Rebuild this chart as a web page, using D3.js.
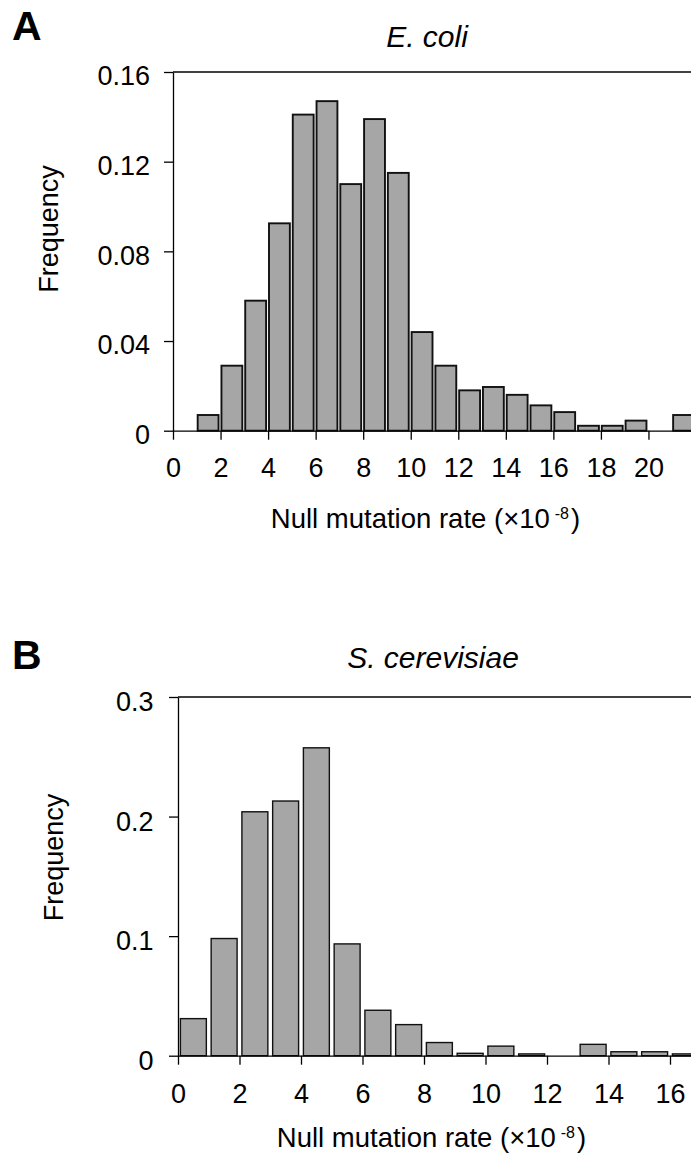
<!DOCTYPE html>
<html>
<head>
<meta charset="utf-8">
<script src="https://cdn.jsdelivr.net/npm/d3@7"></script>
<style>
    body { margin: 0; background: #fff; }
    svg { display: block; font-family: "Liberation Sans", Arial, sans-serif; }
</style>
</head>
<body>
<svg id="chartSvg" width="691" height="1155"></svg>
<script>
// E. coli histogram (bin starts, width 1)
const ecoliBins = [1, 2, 3, 4, 5, 6, 7, 8, 9, 10, 11, 12, 13, 14, 15, 16, 17, 18, 19, 20, 21];
const ecoliFreq = [0.007, 0.029, 0.058, 0.0925, 0.141, 0.147, 0.110, 0.139, 0.115, 0.044, 0.029,
    0.018, 0.0195, 0.016, 0.0113, 0.0083, 0.0022, 0.0022, 0.0045, 0, 0.007];
const ecoliXTicks = [0, 2, 4, 6, 8, 10, 12, 14, 16, 18, 20];
const ecoliYTicks = [0, 0.04, 0.08, 0.12, 0.16];

// S. cerevisiae histogram
const yeastBins = [0, 1, 2, 3, 4, 5, 6, 7, 8, 9, 10, 11, 12, 13, 14, 15, 16];
const yeastFreq = [0.031, 0.098, 0.204, 0.213, 0.2575, 0.0935, 0.038, 0.026, 0.011, 0.002, 0.008,
    0.0015, 0, 0.0095, 0.0033, 0.0033, 0.0015];
const yeastXTicks = [0, 2, 4, 6, 8, 10, 12, 14, 16];
const yeastYTicks = [0, 0.1, 0.2, 0.3];

const svg = d3.select("#chartSvg");

const drawPanel = (opt) => {
    const x = d3.scaleLinear().domain(opt.xDomain).range(opt.xRange);
    const y = d3.scaleLinear().domain(opt.yDomain).range(opt.yRange);
    const g = svg.append("g");

    // bars
    g.selectAll("rect")
        .data(opt.bins.map((b, i) => ({ start: b, value: opt.freq[i] })))
        .join("rect")
        .attr("x", d => x(d.start) + opt.inset)
        .attr("width", d => x(d.start + 1) - x(d.start) - 2 * opt.inset - opt.shrink)
        .attr("y", d => y(d.value))
        .attr("height", d => y(0) - y(d.value))
        .attr("fill", "#a6a6a6")
        .attr("stroke", "#111")
        .attr("stroke-width", opt.barStroke);

    // top frame line
    g.append("line")
        .attr("x1", x.range()[0]).attr("x2", x.range()[1])
        .attr("y1", y.range()[1]).attr("y2", y.range()[1])
        .attr("stroke", "#000").attr("stroke-width", 1.3);

    const xAxis = g.append("g")
        .attr("transform", `translate(0,${y(0)})`)
        .call(d3.axisBottom(x).tickValues(opt.xTicks).tickSize(9).tickSizeOuter(0).tickFormat(d3.format("d")));
    xAxis.selectAll("text")
        .attr("y", opt.xLabelDy).attr("dy", null)
        .attr("font-size", 27).attr("fill", "#000");

    const yAxis = g.append("g")
        .attr("transform", `translate(${x.range()[0]},0)`)
        .call(d3.axisLeft(y).tickValues(opt.yTicks).tickSize(9).tickSizeOuter(0).tickFormat(opt.yFormat));
    yAxis.selectAll("text")
        .attr("x", opt.yLabelDx).attr("dy", null).attr("y", opt.yLabelDy)
        .attr("font-size", 27).attr("fill", "#000");

    svg.selectAll(".domain, .tick line").attr("stroke", "#000").attr("stroke-width", 1.3);
    xAxis.attr("font-family", null);
    yAxis.attr("font-family", null);

    // titles and labels
    svg.append("text")
        .attr("x", opt.title[0]).attr("y", opt.title[1])
        .attr("text-anchor", "middle")
        .attr("font-size", 30).attr("font-style", "italic")
        .text(opt.titleText);

    svg.append("text")
        .attr("x", opt.letter[0]).attr("y", opt.letter[1])
        .attr("font-size", 41).attr("font-weight", "bold")
        .text(opt.letterText);

    svg.append("text")
        .attr("transform", `translate(${opt.yTitle[0]},${opt.yTitle[1]}) rotate(-90)`)
        .attr("text-anchor", "middle")
        .attr("font-size", 27)
        .text("Frequency");

    const xt = svg.append("text")
        .attr("x", opt.xTitle[0]).attr("y", opt.xTitle[1])
        .attr("text-anchor", "middle")
        .attr("font-size", 27.5);
    xt.append("tspan").text("Null mutation rate (×10");
    xt.append("tspan").attr("dx", 5).attr("dy", -9).attr("font-size", 16).text("-8");
    xt.append("tspan").attr("dx", 2).attr("dy", 9).text(")");
};

drawPanel({
    bins: ecoliBins, freq: ecoliFreq,
    xDomain: [0, 22], xRange: [173, 696],
    yDomain: [0, 0.16], yRange: [430.7, 72],
    xTicks: ecoliXTicks, yTicks: ecoliYTicks,
    yFormat: d => d === 0 ? "0" : d3.format(".2f")(d),
    inset: 0.9, shrink: 1.1, barStroke: 1.9,
    xLabelDy: 46.6, yLabelDx: -23, yLabelDy: 12.9,
    title: [427, 46.7], titleText: "E. coli",
    letter: [12, 40], letterText: "A",
    yTitle: [57.5, 229], xTitle: [425.5, 528]
});

drawPanel({
    bins: yeastBins, freq: yeastFreq,
    xDomain: [0, 17], xRange: [178, 700.75],
    yDomain: [0, 0.3], yRange: [1055.7, 697],
    xTicks: yeastXTicks, yTicks: yeastYTicks,
    yFormat: d => d === 0 ? "0" : d3.format(".1f")(d),
    inset: 2.4, shrink: 0, barStroke: 1.4,
    xLabelDy: 47.6, yLabelDx: -24.5, yLabelDy: 13.5,
    title: [433, 667.7], titleText: "S. cerevisiae",
    letter: [12, 669], letterText: "B",
    yTitle: [62.5, 857.5], xTitle: [431.5, 1146.7]
});
</script>
</body>
</html>
